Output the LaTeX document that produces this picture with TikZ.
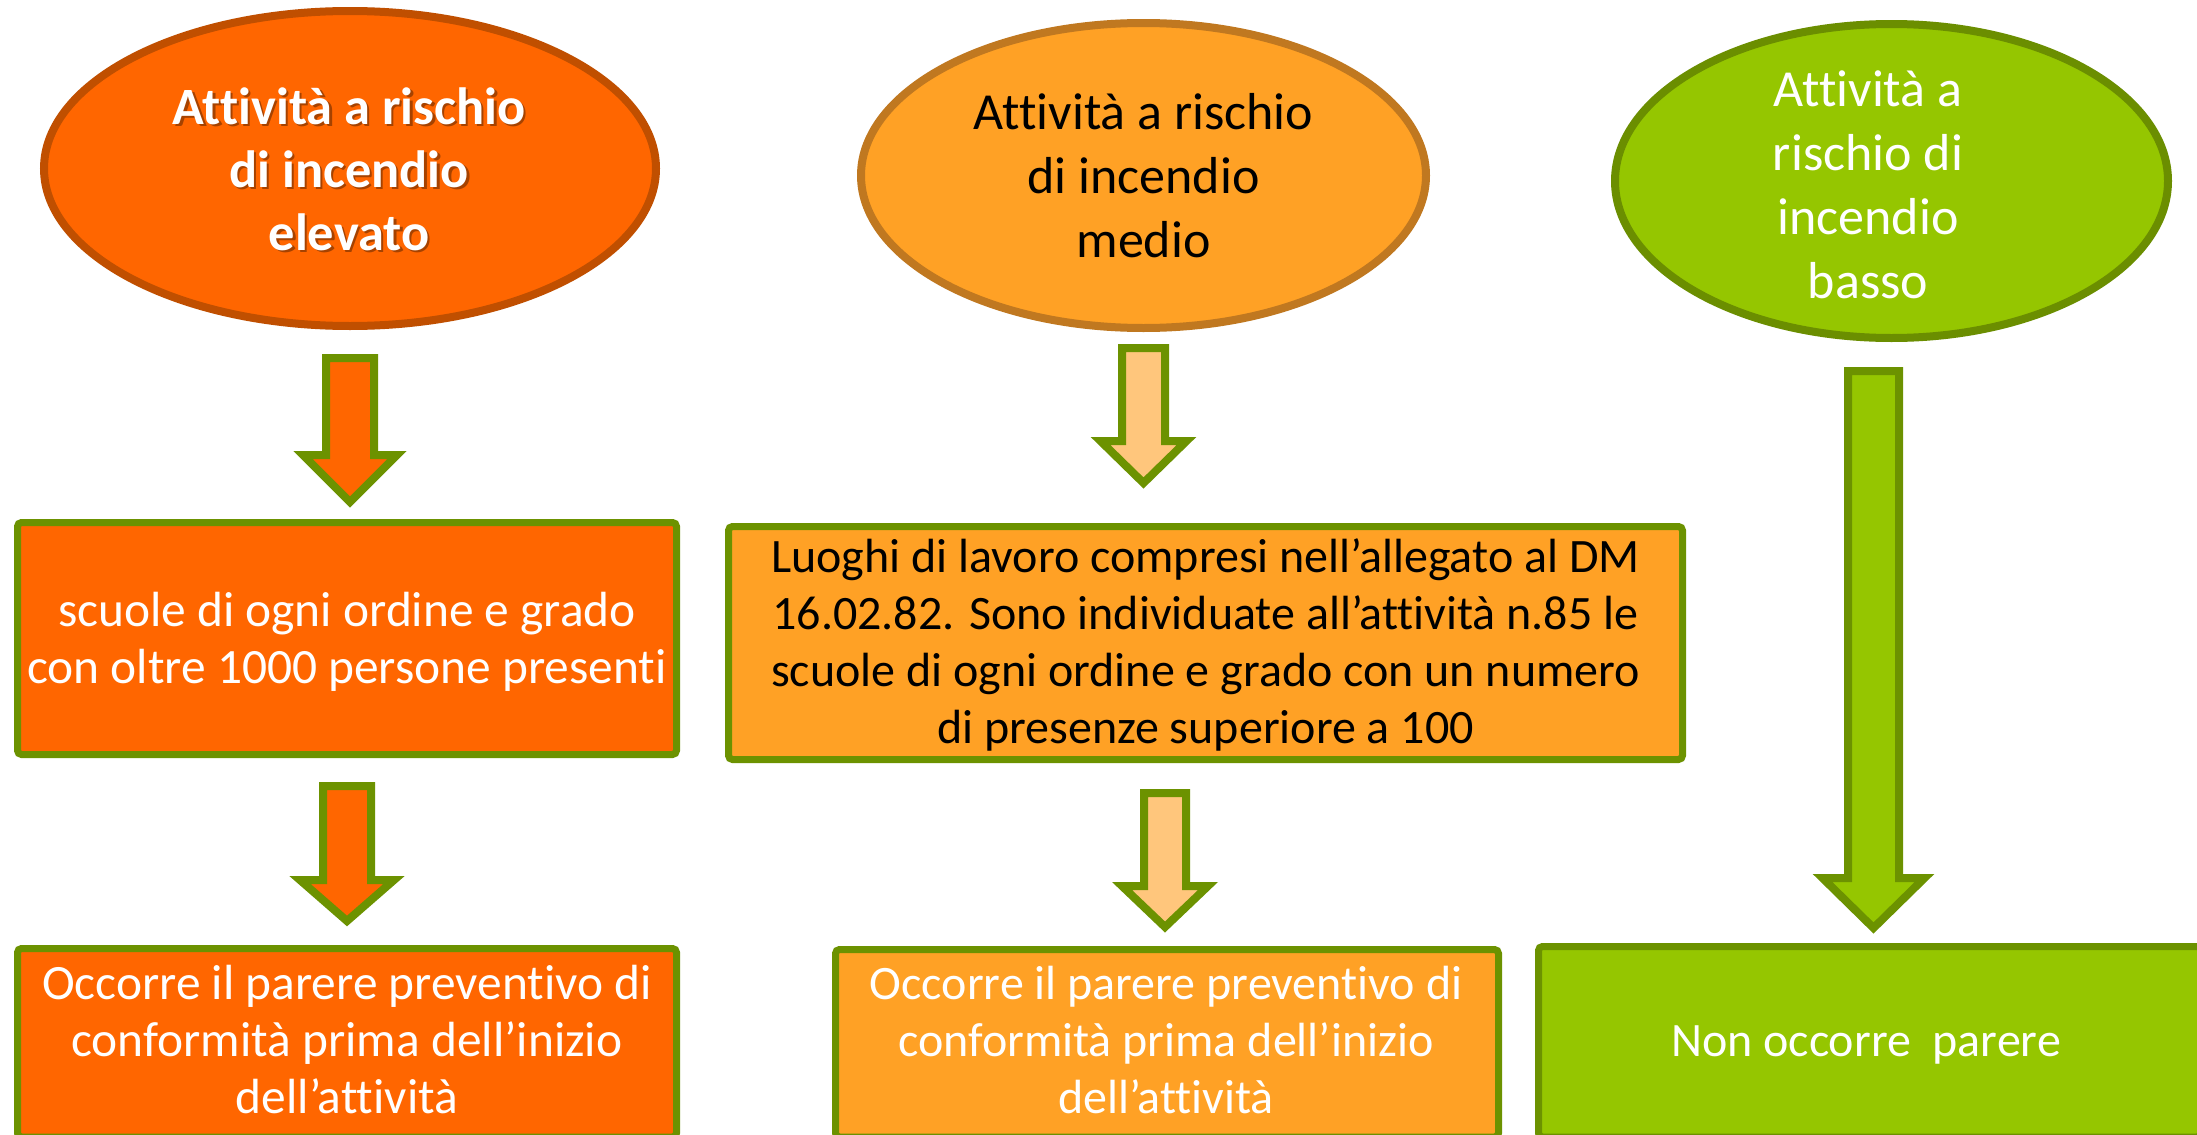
\documentclass[tikz,border=0pt]{standalone}
\usepackage{fontspec}
\setmainfont{Carlito}[Ligatures={CommonOff}]
\usetikzlibrary{shapes.geometric}
\definecolor{cOrange}{HTML}{FF6600}
\definecolor{cOrangeEdge}{HTML}{C04F00}
\definecolor{cAmber}{HTML}{FFA125}
\definecolor{cAmberEdge}{HTML}{C07820}
\definecolor{cAmberLight}{HTML}{FFC67C}
\definecolor{cGreen}{HTML}{95C600}
\definecolor{cGreenEdge}{HTML}{6C9200}
\definecolor{cGreenEll}{HTML}{6B8E00}
\tikzset{
  riskell/.style={ellipse, draw, line width=4pt, inner sep=0pt},
  boxnode/.style={rectangle, draw=cGreenEdge, line width=3.5pt, rounded corners=2pt, inner sep=0pt},
  elltext/.style={align=center, inner sep=0pt, font=\fontsize{26}{32}\selectfont},
  boldtext/.style={align=center, inner sep=0pt, font=\fontsize{26.2}{31.5}\selectfont\bfseries},
  boxtext/.style={align=center, inner sep=0pt, font=\fontsize{24}{28.5}\selectfont},
  bigboxtext/.style={align=center, inner sep=0pt, font=\fontsize{24.7}{28.5}\selectfont},
  blockarrow/.style={draw=cGreenEdge, line width=4pt, line join=miter, miter limit=10},
}
% #1 fill, #2 centre x, #3 top, #4 shoulder y, #5 tip y, #6 shaft half width, #7 head half width
\newcommand\blockarr[7]{%
  \draw[blockarrow, fill=#1] (#2-#6,#3) -- (#2+#6,#3) -- (#2+#6,#4) -- (#2+#7,#4)
    -- (#2,#5) -- (#2-#7,#4) -- (#2-#6,#4) -- cycle;}
\begin{document}
\begin{tikzpicture}[x=0.5pt,y=-0.5pt]
\useasboundingbox (0,0) rectangle (2197,1135);
\clip (0,0) rectangle (2197,1135);
\fill[white] (0,0) rectangle (2197,1135);

% top ellipses
\node[riskell, draw=cOrangeEdge, fill=cOrange, minimum width=306pt, minimum height=157.5pt] (e1) at (350,168.5) {};
\node[riskell, draw=cAmberEdge, fill=cAmber, minimum width=282.5pt, minimum height=152.5pt] (e2) at (1143.5,175.5) {};
\node[riskell, draw=cGreenEll, fill=cGreen, minimum width=276.5pt, minimum height=157pt] (e3) at (1891.5,181) {};

\node[boldtext, text=black, opacity=0.35] (t1s) at (351.5,177) {\strut Attività a rischio\\\strut di incendio\\\strut elevato};
\node[boldtext, text=white] (t1) at (349,174.5) {\strut Attività a rischio\\\strut di incendio\\\strut elevato};
\node[elltext, text=black] (t2) at (1143.5,181) {\strut Attività a rischio\\\strut di incendio\\\strut medio};
\node[elltext, text=white] (t3) at (1868,190) {\strut Attività a\\\strut rischio di\\\strut incendio\\\strut basso};

% middle boxes
\node[boxnode, fill=cOrange, minimum width=329.5pt, minimum height=116pt] (b1) at (347,638.5) {};
\node[bigboxtext, text=white] (b1t) at (347,644) {\strut scuole di ogni ordine e grado\\\strut con oltre 1000 persone presenti};
\node[boxnode, fill=cAmber, minimum width=477pt, minimum height=116.5pt] (b2) at (1205.5,643) {};
\node[boxtext, text=black] (b2t) at (1205.5,647) {\strut Luoghi di lavoro compresi nell’allegato al DM\\\strut 16.02.82. Sono individuate all’attività n.85 le\\\strut scuole di ogni ordine e grado con un numero\\\strut di presenze superiore a 100};

% bottom boxes
\node[boxnode, fill=cOrange, minimum width=329.5pt, minimum height=94.25pt] (b3) at (347,1042.75) {};
\node[bigboxtext, text=white] (b3t) at (347,1045.5) {\strut Occorre il parere preventivo di\\\strut conformità prima dell’inizio\\\strut dell’attività};
\node[boxnode, fill=cAmber, minimum width=331.5pt, minimum height=93.75pt] (b4) at (1167,1043.25) {};
\node[boxtext, text=white] (b4t) at (1166,1045.5) {\strut Occorre il parere preventivo di\\\strut conformità prima dell’inizio\\\strut dell’attività};
\node[boxnode, fill=cGreen, minimum width=331.25pt, minimum height=95.25pt] (b5) at (1869.75,1041.75) {};
\node[boxtext, text=white] (b5t) at (1866,1045.5) {\strut Non occorre\ \ parere};

% block arrows
\blockarr{cOrange}{350}{358}{455}{502}{24}{47}
\blockarr{cOrange}{347}{786}{880}{921}{24}{47}
\blockarr{cAmberLight}{1143.5}{348}{441}{483}{21.5}{43}
\blockarr{cAmberLight}{1165}{793}{886}{927}{21}{43}
\blockarr{cGreen}{1873.5}{371}{878}{928}{25.5}{51}
\end{tikzpicture}
\end{document}
